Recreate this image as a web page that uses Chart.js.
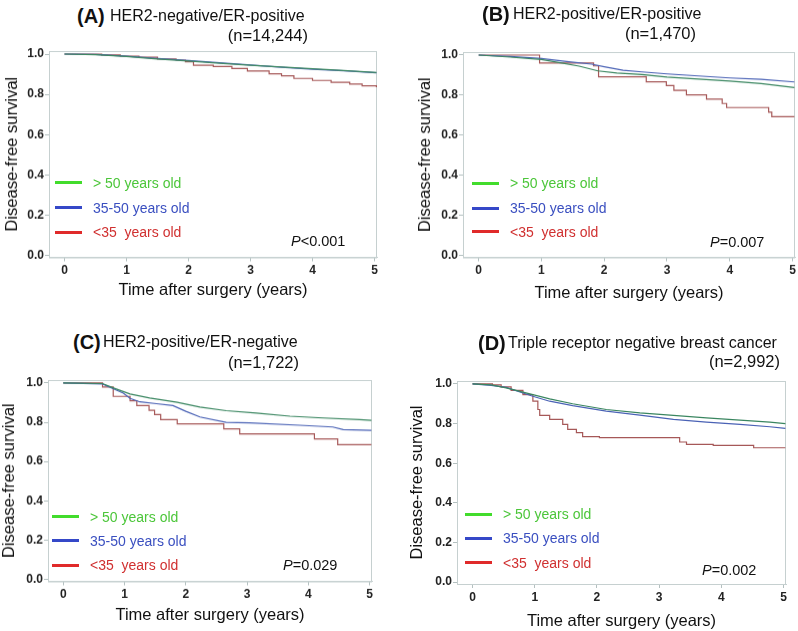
<!DOCTYPE html>
<html>
<head>
<meta charset="utf-8">
<script src="https://cdn.jsdelivr.net/npm/chart.js@4.4.0/dist/chart.umd.min.js"></script>
<style>
  body { margin: 0; background: #fff; overflow: hidden; }
  #page { position: relative; width: 798px; height: 631px; font-family: "Liberation Sans", Arial, sans-serif; color: #111; }
  canvas { position: absolute; }
  .t { position: absolute; white-space: pre; }
  .leg { position: absolute; height: 3px; width: 27px; }
</style>
</head>
<body>
<div id="page"></div>
<script>
// ---- data (time in years, disease-free survival) ----
var xTicks = [0, 1, 2, 3, 4, 5];
var yTicks = [0, 0.2, 0.4, 0.6, 0.8, 1.0];
var groupNames = ['> 50 years old', '35-50 years old', '<35  years old'];

// (A) HER2-negative/ER-positive
var aOver50T = [0, 0.5, 1, 1.5, 2, 2.5, 3, 3.5, 4, 4.5, 5.03];
var aOver50S = [1.0, 0.997, 0.988, 0.976, 0.966, 0.955, 0.945, 0.936, 0.927, 0.918, 0.908];
var aMidT = [0, 0.5, 1, 1.5, 2, 2.5, 3, 3.5, 4, 4.5, 5.03];
var aMidS = [1.0, 0.998, 0.989, 0.978, 0.968, 0.957, 0.946, 0.935, 0.925, 0.917, 0.907];
var aUnder35T = [0, 0.6, 0.9, 1.2, 1.5, 1.8, 1.95, 2.08, 2.4, 2.7, 2.95, 3.3, 3.5, 3.7, 4.0, 4.3, 4.6, 4.8, 5.03];
var aUnder35S = [1.0, 0.996, 0.99, 0.984, 0.976, 0.97, 0.962, 0.945, 0.938, 0.928, 0.916, 0.902, 0.892, 0.879, 0.869, 0.86, 0.851, 0.842, 0.835];

// (B) HER2-positive/ER-positive
var bOver50T = [0, 0.5, 1.0, 1.3, 1.6, 1.9, 2.2, 2.6, 3.0, 3.5, 4.0, 4.5, 5.03];
var bOver50S = [1.0, 0.99, 0.978, 0.962, 0.945, 0.921, 0.91, 0.903, 0.89, 0.88, 0.87, 0.858, 0.838];
var bMidT = [0, 0.5, 1.0, 1.4, 1.8, 2.0, 2.3, 2.6, 3.0, 3.5, 4.0, 4.5, 5.03];
var bMidS = [1.0, 0.993, 0.983, 0.968, 0.955, 0.942, 0.924, 0.916, 0.906, 0.896, 0.886, 0.879, 0.866];
var bUnder35T = [0, 0.97, 1.83, 1.91, 2.67, 2.99, 3.11, 3.31, 3.63, 3.88, 3.95, 4.62, 4.67, 5.03];
var bUnder35S = [1.0, 0.96, 0.946, 0.892, 0.867, 0.848, 0.824, 0.801, 0.78, 0.758, 0.738, 0.715, 0.692, 0.692];

// (C) HER2-positive/ER-negative
var cOver50T = [0, 0.64, 0.82, 1.09, 1.41, 1.86, 2.23, 2.66, 3.15, 3.7, 4.24, 4.84, 5.03];
var cOver50S = [1.0, 0.997, 0.975, 0.944, 0.924, 0.902, 0.878, 0.859, 0.847, 0.831, 0.822, 0.814, 0.81];
var cMidT = [0, 0.64, 0.82, 0.98, 1.09, 1.25, 1.52, 1.79, 2.0, 2.23, 2.66, 3.04, 3.86, 4.4, 4.57, 5.03];
var cMidS = [1.0, 0.995, 0.97, 0.949, 0.922, 0.904, 0.895, 0.885, 0.856, 0.827, 0.8, 0.797, 0.785, 0.776, 0.763, 0.759];
var cUnder35T = [0, 0.64, 0.815, 1.09, 1.2, 1.4, 1.49, 1.59, 1.86, 2.62, 2.88, 4.1, 4.48, 5.03];
var cUnder35S = [1.0, 0.98, 0.932, 0.91, 0.885, 0.861, 0.839, 0.814, 0.792, 0.766, 0.741, 0.715, 0.686, 0.686];

// (D) Triple receptor negative breast cancer
var dOver50T = [0, 0.3, 0.54, 0.97, 1.24, 1.61, 2.15, 2.69, 3.23, 3.76, 4.3, 4.78, 5.03];
var dOver50S = [1.0, 0.995, 0.98, 0.946, 0.925, 0.9, 0.871, 0.854, 0.841, 0.829, 0.817, 0.807, 0.8];
var dMidT = [0, 0.3, 0.54, 0.97, 1.24, 1.61, 2.15, 2.69, 3.23, 3.76, 4.3, 4.78, 5.03];
var dMidS = [1.0, 0.993, 0.983, 0.938, 0.913, 0.891, 0.863, 0.843, 0.821, 0.807, 0.796, 0.784, 0.776];
var dUnder35T = [0, 0.32, 0.46, 0.62, 0.81, 0.97, 1.05, 1.08, 1.24, 1.45, 1.53, 1.67, 1.77, 2.04, 3.33, 3.44, 3.87, 4.52, 5.03];
var dUnder35S = [1.0, 0.995, 0.985, 0.968, 0.946, 0.913, 0.871, 0.841, 0.821, 0.796, 0.771, 0.754, 0.734, 0.729, 0.707, 0.695, 0.69, 0.678, 0.678];

var curveColors = ['#3a8660', '#4a62b5', '#a65858'];
var legendLineColors = ['#42dc2c', '#3548c8', '#e02a2a'];
var legendTextColors = ['#4cc63a', '#3a4fc0', '#d03030'];

var FONT = '"Liberation Sans", Arial, sans-serif';
var page = document.getElementById('page');

function addText(txt, left, cy, size, opts) {
  opts = opts || {};
  var d = document.createElement('div');
  d.className = 't';
  d.style.fontSize = size + 'px';
  d.style.lineHeight = size + 'px';
  d.style.top = (cy - size / 2) + 'px';
  if (opts.right != null) d.style.right = (798 - opts.right) + 'px';
  else d.style.left = left + 'px';
  if (opts.bold) d.style.fontWeight = 'bold';
  if (opts.color) d.style.color = opts.color;
  if (opts.html) d.innerHTML = txt; else d.textContent = txt;
  page.appendChild(d);
}

// light frame round the plot area
var framePlugin = {
  id: 'frame',
  beforeDatasetsDraw: function (chart) {
    var a = chart.chartArea, ctx = chart.ctx;
    ctx.save();
    ctx.strokeStyle = '#c6d0d0';
    ctx.lineWidth = 1;
    ctx.strokeRect(a.left + 0.5, a.top + 0.5, a.right - a.left - 1, a.bottom - a.top);
    ctx.restore();
  }
};

function makePanel(p) {
  var cLeft = p.box.left - p.yW, cTop = p.box.top - 10;
  var w = p.box.right + 10 - cLeft, h = p.box.bottom + p.xH - cTop;
  var cv = document.createElement('canvas');
  cv.width = w; cv.height = h;
  cv.style.left = cLeft + 'px'; cv.style.top = cTop + 'px';
  cv.style.width = w + 'px'; cv.style.height = h + 'px';
  page.appendChild(cv);

  var sets = p.series.map(function (s, i) {
    return {
      label: groupNames[i],
      data: s.t.map(function (x, k) { return {x: x, y: s.s[k]}; }),
      borderColor: curveColors[i],
      borderWidth: 1.2,
      pointRadius: 0,
      stepped: s.stepped ? 'before' : false,
      fill: false
    };
  });

  new Chart(cv, {
    type: 'line',
    data: {datasets: sets},
    plugins: [framePlugin],
    options: {
      responsive: false,
      animation: false,
      devicePixelRatio: 1,
      layout: {padding: {top: 10, right: 10, left: 0, bottom: 0}},
      plugins: {legend: {display: false}, tooltip: {enabled: false}},
      scales: {
        x: {
          type: 'linear', min: -0.25, max: 5.04,
          afterBuildTicks: function (a) { a.ticks = xTicks.map(function (v) { return {value: v}; }); },
          afterFit: function (s) { s.height = p.xH; },
          ticks: {font: {family: FONT, size: 12, weight: 'bold'}, color: '#222', padding: 2, maxRotation: 0,
                  callback: function (v) { return String(v); }},
          grid: {drawOnChartArea: false, tickLength: 4, color: '#b4c0c0'},
          border: {color: '#c6d0d0'},
          title: {display: true, text: 'Time after surgery (years)', color: '#111',
                  font: {family: FONT, size: 16.5, lineHeight: 1}, padding: 0}
        },
        y: {
          type: 'linear', min: -0.01, max: 1.015,
          afterBuildTicks: function (a) { a.ticks = yTicks.map(function (v) { return {value: v}; }); },
          afterFit: function (s) { s.width = p.yW; },
          ticks: {font: {family: FONT, size: 12, weight: 'bold'}, color: '#222', padding: 1,
                  callback: function (v) { return v.toFixed(1); }},
          grid: {drawOnChartArea: false, tickLength: 4, color: '#b4c0c0'},
          border: {color: '#c6d0d0'},
          title: {display: true, text: 'Disease-free survival', color: '#111',
                  font: {family: FONT, size: 16.5, lineHeight: 1}, padding: {top: p.yPad, bottom: 0}}
        }
      }
    }
  });

  // panel heading
  addText(p.tag, p.tagX, p.tagY, 20, {bold: true});
  addText(p.title, p.titleX, p.tagY, 16);
  addText(p.n, 0, p.nY, 16.5, {right: p.nRight});

  // legend
  p.legYs.forEach(function (y, i) {
    var l = document.createElement('div');
    l.className = 'leg';
    l.style.left = p.legX + 'px';
    l.style.top = (y - 1.5) + 'px';
    l.style.background = legendLineColors[i];
    page.appendChild(l);
    addText(groupNames[i], p.legTextX, y, 14, {color: legendTextColors[i]});
  });

  addText(p.pval, p.pX, p.pY, 14.5, {html: true});
}

makePanel({
  box: {left: 49, top: 51, right: 377, bottom: 257}, yW: 49, xH: 41.5, yPad: 4,
  tag: '(A)', tagX: 77, tagY: 16, title: 'HER2-negative/ER-positive', titleX: 110,
  n: '(n=14,244)', nRight: 308, nY: 35,
  legX: 55, legTextX: 93, legYs: [182.5, 207.5, 232],
  pval: '<i>P</i>&lt;0.001', pX: 291, pY: 241.5,
  series: [{t: aOver50T, s: aOver50S}, {t: aMidT, s: aMidS}, {t: aUnder35T, s: aUnder35S, stepped: true}]
});

makePanel({
  box: {left: 463, top: 52, right: 795, bottom: 257}, yW: 49, xH: 44.5, yPad: 3.5,
  tag: '(B)', tagX: 482, tagY: 14, title: 'HER2-positive/ER-positive', titleX: 513,
  n: '(n=1,470)', nRight: 696, nY: 33,
  legX: 472, legTextX: 510, legYs: [183.3, 208.3, 231.7],
  pval: '<i>P</i>=0.007', pX: 710, pY: 242.5,
  series: [{t: bOver50T, s: bOver50S}, {t: bMidT, s: bMidS}, {t: bUnder35T, s: bUnder35S, stepped: true}]
});

makePanel({
  box: {left: 48, top: 380, right: 372, bottom: 581}, yW: 48, xH: 42.5, yPad: 1.5,
  tag: '(C)', tagX: 73, tagY: 342, title: 'HER2-positive/ER-negative', titleX: 103,
  n: '(n=1,722)', nRight: 299, nY: 362,
  legX: 52, legTextX: 90, legYs: [516.7, 540.7, 565],
  pval: '<i>P</i>=0.029', pX: 283, pY: 565,
  series: [{t: cOver50T, s: cOver50S}, {t: cMidT, s: cMidS}, {t: cUnder35T, s: cUnder35S, stepped: true}]
});

makePanel({
  box: {left: 457, top: 381, right: 786, bottom: 584}, yW: 49, xH: 46, yPad: 1.5,
  tag: '(D)', tagX: 478, tagY: 343, title: 'Triple receptor negative breast cancer', titleX: 508,
  n: '(n=2,992)', nRight: 780, nY: 361,
  legX: 465, legTextX: 503, legYs: [514, 538.3, 562.7],
  pval: '<i>P</i>=0.002', pX: 702, pY: 570.5,
  series: [{t: dOver50T, s: dOver50S}, {t: dMidT, s: dMidS}, {t: dUnder35T, s: dUnder35S, stepped: true}]
});
</script>
</body>
</html>
